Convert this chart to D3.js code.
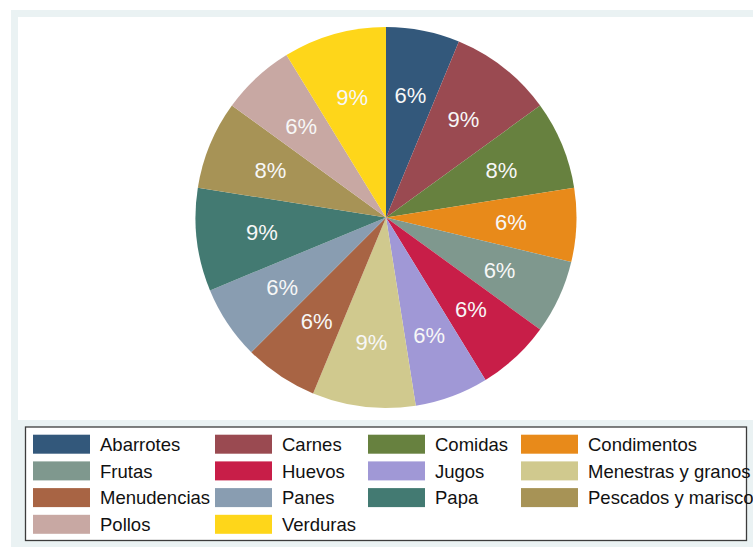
<!DOCTYPE html>
<html>
<head>
<meta charset="utf-8">
<script src="https://cdn.jsdelivr.net/npm/d3@7"></script>
<style>
  html, body { margin: 0; padding: 0; background: #ffffff; overflow: hidden; }
  svg { display: block; }
</style>
</head>
<body>
<svg id="chart" width="753" height="547"></svg>
<script>
// Product categories and how many items fall in each
const categories = [
  "Abarrotes", "Carnes", "Comidas", "Condimentos",
  "Frutas", "Huevos", "Jugos", "Menestras y granos",
  "Menudencias", "Panes", "Papa", "Pescados y mariscos",
  "Pollos", "Verduras"
];
const counts = [5, 7, 6, 5, 5, 5, 5, 7, 5, 5, 7, 6, 5, 7];
const sliceColors = [
  "#33587b", "#9a4a51", "#67813f", "#e88a1a",
  "#7f988e", "#c81e48", "#a098d6", "#d0c98e",
  "#a86444", "#899db1", "#437a72", "#a79356",
  "#c8a8a3", "#fed61a"
];

const total = d3.sum(counts);
const data = categories.map((name, i) => ({ name, value: counts[i] }));

const svg = d3.select("#chart");
const W = 753, H = 547;

// Outer graph region and white plot region
svg.append("rect").attr("x", 11).attr("y", 10).attr("width", W - 11).attr("height", H - 10)
  .attr("fill", "#eaf2f3");
svg.append("rect").attr("x", 18).attr("y", 17).attr("width", W - 18).attr("height", 403)
  .attr("fill", "#ffffff");

const color = d3.scaleOrdinal().domain(categories).range(sliceColors);

// Pie
const cx = 386, cy = 217.5, R = 190.5, labelR = 125;
const pie = d3.pie().sort(null).value(d => d.value);
const arc = d3.arc().innerRadius(0).outerRadius(R);
const labelArc = d3.arc().innerRadius(labelR).outerRadius(labelR);

const g = svg.append("g").attr("transform", `translate(${cx},${cy})`);
const arcs = pie(data);

g.selectAll("path.slice").data(arcs).join("path")
  .attr("class", "slice")
  .attr("d", arc)
  .attr("fill", d => color(d.data.name));

g.selectAll("text.pct").data(arcs).join("text")
  .attr("class", "pct")
  .attr("transform", d => `translate(${labelArc.centroid(d)})`)
  .attr("text-anchor", "middle")
  .attr("dy", "0.36em")
  .attr("font-family", "'Liberation Sans', Arial, Helvetica, sans-serif")
  .attr("font-size", 22)
  .attr("fill", "#f7f7f7")
  .text(d => Math.round(100 * d.data.value / total) + "%");

// Legend
const legend = svg.append("g");
legend.append("rect").attr("x", 25.5).attr("y", 427).attr("width", 721).attr("height", 113.5)
  .attr("fill", "#ffffff").attr("stroke", "#3c3c3c").attr("stroke-width", 1.3);

const colX = [33, 215, 368, 521];
const rowY = d3.scaleLinear().domain([0, 1]).range([434.7, 461.4]);
const swW = 57, swH = 19, textOff = 67;

const items = legend.selectAll("g.item").data(data).join("g")
  .attr("class", "item")
  .attr("transform", (d, i) => `translate(${colX[i % 4]},${rowY(Math.floor(i / 4))})`);

items.append("rect")
  .attr("width", swW).attr("height", swH)
  .attr("fill", d => color(d.name));

items.append("text")
  .attr("x", textOff).attr("y", swH / 2)
  .attr("dy", "0.36em")
  .attr("font-family", "'Liberation Sans', Arial, Helvetica, sans-serif")
  .attr("font-size", 18.5)
  .attr("fill", "#111111")
  .text(d => d.name);
</script>
</body>
</html>
